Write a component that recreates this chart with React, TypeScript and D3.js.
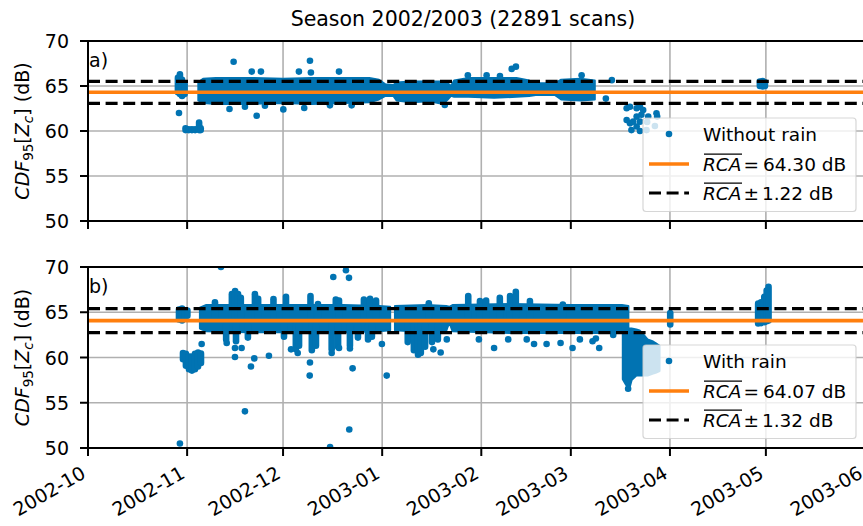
import * as d3 from "d3";

type Col = [string, number, number];
type Pt = [string, number];

const FONT = "DejaVu Sans, sans-serif";
const BLUE = "#0173b2";
const ORANGE = "#ff7f0e";

const TITLE = "Season 2002/2003 (22891 scans)";
const X_START = "2002-10-01";
const X_END = "2003-06-01";
const MONTH_TICKS = [
  "2002-10-01", "2002-11-01", "2002-12-01", "2003-01-01", "2003-02-01",
  "2003-03-01", "2003-04-01", "2003-05-01", "2003-06-01"
];
const Y_TICKS = [50, 55, 60, 65, 70];

// panel a: without rain
const MEAN_A = 64.3;
const SPREAD_A = 1.22;
// dense cloud envelope (date, low, high)
const BAND_A: Col[][] = [[
  ["2002-11-04T12", 63.4, 65.4],
  ["2002-11-06", 63.1, 65.8],
  ["2002-11-10", 63.0, 65.9],
  ["2002-11-20", 63.0, 65.9],
  ["2002-12-01", 63.1, 65.8],
  ["2002-12-10", 63.0, 65.9],
  ["2002-12-20", 63.1, 65.9],
  ["2002-12-28", 63.2, 65.9],
  ["2002-12-31", 63.5, 65.7],
  ["2003-01-02", 63.9, 65.2],
  ["2003-01-04T12", 63.9, 65.1],
  ["2003-01-05T12", 63.4, 65.4],
  ["2003-01-10", 63.2, 65.5],
  ["2003-01-16", 63.3, 65.5],
  ["2003-01-20", 63.0, 65.5],
  ["2003-01-21T12", 63.5, 65.3],
  ["2003-01-22T12", 63.9, 65.0],
  ["2003-01-23T12", 63.8, 65.6],
  ["2003-01-28", 63.8, 65.9],
  ["2003-02-05", 63.7, 65.9],
  ["2003-02-12", 63.8, 65.9],
  ["2003-02-16", 63.9, 65.6],
  ["2003-02-18", 64.0, 65.3],
  ["2003-02-24", 64.0, 65.3],
  ["2003-02-26", 63.5, 65.7],
  ["2003-03-04", 63.4, 65.8],
  ["2003-03-08T12", 63.5, 65.6]
]];
// streaks of stacked scans (date, low, high)
const COLUMNS_A: Col[] = [
  ["2002-10-29T03", 64.3, 65.9],
  ["2002-10-29T18", 64.1, 66.3],
  ["2002-10-30T10", 63.9, 65.7],
  ["2002-10-31T05", 64.1, 65.2],
  ["2002-10-31T12", 60.1, 60.3],
  ["2002-11-01T12", 60.1, 60.2],
  ["2002-11-02T12", 60.1, 60.2],
  ["2002-11-03T12", 60.1, 60.2],
  ["2002-11-04T18", 60.1, 60.95],
  ["2002-11-05T06", 60.1, 60.3],
  ["2003-04-29T03", 65.0, 65.5],
  ["2003-04-30T00", 64.95, 65.55],
  ["2003-04-30T17", 65.0, 65.4]
];
const POINTS_A: Pt[] = [
  ["2002-10-29T11", 62.0],
  ["2002-11-15T13", 67.7],
  ["2002-12-09T10", 67.8],
  ["2002-11-21T05", 66.6],
  ["2002-11-24T02", 66.6],
  ["2002-12-05T23", 66.6],
  ["2002-12-09T17", 66.5],
  ["2002-12-18T12", 66.6],
  ["2003-01-27T19", 66.2],
  ["2003-02-02T16", 66.2],
  ["2003-02-06T20", 66.1],
  ["2003-02-10T12", 66.9],
  ["2003-02-11T20", 67.15],
  ["2003-03-04T09", 66.2],
  ["2003-03-13T20", 65.65],
  ["2003-03-11T23", 63.6],
  ["2002-11-14T06", 62.45],
  ["2002-11-19T02", 62.7],
  ["2002-11-22T18", 61.7],
  ["2002-11-25T08", 62.8],
  ["2002-12-01T02", 62.4],
  ["2002-12-07T15", 62.55],
  ["2002-12-15T16", 62.85],
  ["2002-12-22T11", 62.85],
  ["2003-01-20T14", 62.9],
  ["2003-03-18T11", 62.52],
  ["2003-03-19T12", 62.7],
  ["2003-03-21T14", 62.52],
  ["2003-03-22T15", 62.7],
  ["2003-03-23T15", 62.33],
  ["2003-03-25T05", 61.6],
  ["2003-03-18T11", 61.22],
  ["2003-03-19T12", 60.85],
  ["2003-03-20T12", 61.04],
  ["2003-03-21T14", 61.6],
  ["2003-03-22T15", 61.04],
  ["2003-03-19T23", 60.1],
  ["2003-03-22T15", 60.0],
  ["2003-03-24T16", 60.1],
  ["2003-03-27T19", 61.96],
  ["2003-03-28T00", 61.6],
  ["2003-03-27T07", 60.56],
  ["2003-03-21T14", 60.5],
  ["2003-03-23T02", 61.8],
  ["2003-03-24T21", 61.0]
];

// panel b: with rain
const MEAN_B = 64.07;
const SPREAD_B = 1.32;
const BAND_B: Col[][] = [
  [
    ["2002-11-05", 63.2, 65.5],
    ["2002-11-07", 62.9, 65.8],
    ["2002-11-20", 62.8, 65.8],
    ["2002-12-05", 62.8, 65.8],
    ["2002-12-20", 62.8, 65.8],
    ["2002-12-31", 62.9, 65.7],
    ["2003-01-03T12", 63.0, 65.6]
  ],
  [
    ["2003-01-05", 63.0, 65.7],
    ["2003-01-15", 62.8, 65.8],
    ["2003-01-21", 62.9, 65.7],
    ["2003-01-22", 63.9, 65.6],
    ["2003-01-23", 62.9, 65.8],
    ["2003-02-10", 62.7, 65.9],
    ["2003-03-01", 62.7, 65.8],
    ["2003-03-17", 62.7, 65.8],
    ["2003-03-19", 62.7, 65.7]
  ],
  [
    ["2003-03-17T06", 57.6, 63.3],
    ["2003-03-18T06", 57.0, 63.2],
    ["2003-03-19T06", 56.5, 63.2],
    ["2003-03-20", 57.5, 63.2],
    ["2003-03-21T12", 58.0, 63.1],
    ["2003-03-22T12", 58.0, 63.0],
    ["2003-03-24", 58.0, 62.4],
    ["2003-03-25", 58.0, 62.0],
    ["2003-03-26T12", 58.2, 61.8],
    ["2003-03-27T12", 58.3, 61.6],
    ["2003-03-28T18", 58.5, 61.3]
  ]
];
const COLUMNS_B: Col[] = [
  ["2002-10-29T11", 64.2, 65.3],
  ["2002-10-30T10", 64.1, 65.4],
  ["2002-10-31T07", 64.3, 65.2],
  ["2002-11-01T02", 64.6, 65.2],
  ["2002-10-30T17", 59.8, 60.5],
  ["2002-10-31T15", 59.1, 60.4],
  ["2002-11-01T14", 58.7, 60.1],
  ["2002-11-02T12", 58.55, 60.1],
  ["2002-11-03T11", 58.7, 60.4],
  ["2002-11-04T10", 59.0, 60.55],
  ["2002-11-05T08", 59.4, 60.45],
  ["2003-04-01T02", 63.65, 64.9],
  ["2003-04-28T14", 63.75, 65.95],
  ["2003-04-29T12", 63.8, 66.1],
  ["2003-04-30T12", 63.9, 66.7],
  ["2003-05-01T06", 64.0, 67.4],
  ["2003-05-01T20", 64.1, 67.8],
  // upward streaks
  ["2002-11-09T17", 64.5, 66.1],
  ["2002-11-15T00", 64.5, 67.0],
  ["2002-11-16T00", 64.5, 67.35],
  ["2002-11-16T22", 64.5, 67.0],
  ["2002-11-17T19", 64.5, 66.6],
  ["2002-11-22T05", 64.5, 67.0],
  ["2002-11-23T05", 64.5, 66.5],
  ["2002-11-28T00", 64.5, 66.45],
  ["2002-12-01T22", 64.5, 66.7],
  ["2002-12-09T14", 64.5, 66.8],
  ["2002-12-11T22", 64.5, 65.9],
  ["2002-12-17T12", 64.5, 66.4],
  ["2002-12-18T12", 64.5, 66.3],
  ["2002-12-26T07", 64.5, 66.4],
  ["2002-12-28T05", 64.5, 66.5],
  ["2002-12-30T02", 64.5, 66.3],
  ["2003-01-15T14", 64.5, 66.0],
  ["2003-01-27T22", 64.5, 66.8],
  ["2003-01-31T14", 64.5, 66.25],
  ["2003-02-02T12", 64.5, 66.3],
  ["2003-02-06T19", 64.5, 66.6],
  ["2003-02-10T00", 64.5, 66.8],
  ["2003-02-11T19", 64.5, 67.25],
  ["2003-02-16T05", 64.5, 66.25],
  ["2003-02-26T12", 64.5, 65.85],
  // downward streaks
  ["2002-11-13T05", 62.0, 63.5],
  ["2002-11-16T07", 61.8, 63.5],
  ["2002-11-20T00", 62.2, 63.5],
  ["2002-12-01T07", 62.3, 63.5],
  ["2002-12-05T00", 60.9, 63.5],
  ["2002-12-06T00", 61.3, 63.5],
  ["2002-12-10T00", 60.8, 63.5],
  ["2002-12-11T07", 61.3, 63.5],
  ["2002-12-16T05", 60.9, 63.5],
  ["2002-12-18T05", 61.2, 63.5],
  ["2002-12-21T22", 61.3, 63.5],
  ["2002-12-24T10", 62.2, 63.5],
  ["2002-12-27T14", 62.0, 63.5],
  ["2002-12-28T19", 62.3, 63.5],
  ["2003-01-09T00", 61.7, 63.5],
  ["2003-01-10T22", 60.8, 63.5],
  ["2003-01-12T05", 60.3, 63.5],
  ["2003-01-13T02", 60.5, 63.5],
  ["2003-01-14T10", 61.2, 63.5],
  ["2003-01-16T14", 61.7, 63.5],
  ["2003-01-18T10", 62.0, 63.5]
];
const POINTS_B: Pt[] = [
  ["2002-11-11T14", 70.0],
  ["2002-12-16T17", 68.9],
  ["2002-12-20T16", 69.65],
  ["2002-12-21T15", 68.8],
  ["2002-10-29T18", 50.5],
  ["2002-11-19T02", 54.05],
  ["2002-12-21T17", 52.05],
  ["2002-12-15T17", 50.1],
  ["2002-12-09T10", 59.45],
  ["2002-12-09T08", 58.0],
  ["2002-12-22T18", 58.8],
  ["2003-01-02T10", 58.0],
  ["2002-12-31T22", 61.5],
  ["2002-11-20T23", 59.0],
  ["2002-11-22T00", 59.9],
  ["2002-11-26T14", 60.2],
  ["2002-11-15T23", 61.05],
  ["2002-11-15T23", 60.05],
  ["2002-11-18T01", 61.05],
  ["2002-11-13T09", 61.6],
  ["2002-11-05T13", 61.5],
  ["2002-12-03T12", 60.9],
  ["2002-12-05T14", 60.5],
  ["2002-12-16T05", 60.5],
  ["2002-12-18T12", 61.05],
  ["2002-12-21T22", 61.0],
  ["2003-01-17T00", 60.9],
  ["2003-01-19T07", 60.55],
  ["2003-01-21T05", 62.0],
  ["2003-01-31T06", 62.0],
  ["2003-02-05T00", 61.05],
  ["2003-02-09T10", 62.0],
  ["2003-02-15T05", 62.0],
  ["2003-02-17T12", 61.5],
  ["2003-02-21T10", 61.5],
  ["2003-02-25T19", 61.6],
  ["2003-03-01T13", 61.05],
  ["2003-03-03T20", 62.0],
  ["2003-03-07T19", 61.8],
  ["2003-03-09T21", 61.05],
  ["2003-03-14T06", 62.5],
  ["2003-03-08T20", 62.1],
  ["2003-03-18T22", 56.55]
];

const LEFT = 88;
const RIGHT = 865;
const parseDate = (s: string) => new Date(s.length > 10 ? `${s}:00` : `${s}T00:00`);
const x = d3.scaleTime().domain([parseDate(X_START), parseDate(X_END)]).range([LEFT, RIGHT]);

type PanelProps = {
  id: string;
  top: number;
  bottom: number;
  bands: Col[][];
  columns: Col[];
  points: Pt[];
  mean: number;
  spread: number;
  label: string;
  letter: string;
  showDates: boolean;
};

function Panel({id, top, bottom, bands, columns, points, mean, spread, label, letter, showDates}: PanelProps) {
  const y = d3.scaleLinear().domain([50, 70]).range([bottom, top]);
  const area = d3
    .area<Col>()
    .x((d) => x(parseDate(d[0])))
    .y0((d) => y(d[1]))
    .y1((d) => y(d[2]));
  const fmt = d3.timeFormat("%Y-%m");
  const boxW = 213;
  const boxH = 93.5;
  const boxX = RIGHT - 9 - boxW;
  const boxY = bottom - 9.5 - boxH;
  const rows = [boxY + 16, boxY + 46, boxY + 75];
  const textX = boxX + 60;
  const midY = (top + bottom) / 2;

  return (
    <g>
      <defs>
        <clipPath id={`clip-${id}`}>
          <rect x={LEFT} y={top} width={RIGHT - LEFT} height={bottom - top} />
        </clipPath>
      </defs>
      {MONTH_TICKS.map((t) => (
        <line key={t} x1={x(parseDate(t))} x2={x(parseDate(t))} y1={top} y2={bottom} stroke="#b0b0b0" strokeWidth={1.6} />
      ))}
      {Y_TICKS.map((t) => (
        <line key={t} x1={LEFT} x2={RIGHT} y1={y(t)} y2={y(t)} stroke="#b0b0b0" strokeWidth={1.6} />
      ))}
      <g clipPath={`url(#clip-${id})`}>
        {bands.map((seg, i) => (
          <path key={i} d={area(seg) ?? ""} fill={BLUE} stroke={BLUE} strokeWidth={2} strokeLinejoin="round" />
        ))}
        {columns.map((c, i) => (
          <line
            key={i}
            x1={x(parseDate(c[0]))}
            x2={x(parseDate(c[0]))}
            y1={y(c[1])}
            y2={y(c[2])}
            stroke={BLUE}
            strokeWidth={6.6}
            strokeLinecap="round"
          />
        ))}
        {points.map((p, i) => (
          <circle key={i} cx={x(parseDate(p[0]))} cy={y(p[1])} r={3.3} fill={BLUE} />
        ))}
        <line x1={LEFT} x2={RIGHT} y1={y(mean)} y2={y(mean)} stroke={ORANGE} strokeWidth={3.6} />
        {[mean + spread, mean - spread].map((v) => (
          <line key={v} x1={LEFT} x2={RIGHT} y1={y(v)} y2={y(v)} stroke="#000" strokeWidth={3.2} strokeDasharray="12,5.6" />
        ))}
      </g>

      <rect x={boxX} y={boxY} width={boxW} height={boxH} rx={3} fill="#fff" fillOpacity={0.8} stroke="#cccccc" strokeOpacity={0.8} strokeWidth={1.2} />
      <circle cx={boxX + 26} cy={rows[0]} r={3.3} fill={BLUE} />
      <line x1={boxX + 6} x2={boxX + 46} y1={rows[1]} y2={rows[1]} stroke={ORANGE} strokeWidth={3.6} />
      <line x1={boxX + 6} x2={boxX + 46} y1={rows[2]} y2={rows[2]} stroke="#000" strokeWidth={3.2} strokeDasharray="12,5.6" />
      <g fontFamily={FONT} fontSize={18.5} fill="#000">
        <text x={textX} y={rows[0] + 6.5}>{label}</text>
        <text x={textX} y={rows[1] + 6.5}>
          <tspan fontStyle="italic">RCA</tspan>
          <tspan dx={2}>=</tspan>
          <tspan dx={4}>{`${mean.toFixed(2)} dB`}</tspan>
        </text>
        <text x={textX} y={rows[2] + 6.5}>
          <tspan fontStyle="italic">RCA</tspan>
          <tspan dx={2}>±</tspan>
          <tspan dx={3}>{`${spread.toFixed(2)} dB`}</tspan>
        </text>
      </g>
      <line x1={textX + 1} x2={textX + 39} y1={rows[1] - 9.8} y2={rows[1] - 9.8} stroke="#000" strokeWidth={1.2} />
      <line x1={textX + 1} x2={textX + 39} y1={rows[2] - 9.8} y2={rows[2] - 9.8} stroke="#000" strokeWidth={1.2} />

      <rect x={LEFT} y={top} width={RIGHT - LEFT} height={bottom - top} fill="none" stroke="#000" strokeWidth={2} />
      {Y_TICKS.map((t) => (
        <g key={t}>
          <line x1={LEFT - 8} x2={LEFT} y1={y(t)} y2={y(t)} stroke="#000" strokeWidth={2} />
          <text x={LEFT - 19} y={y(t)} textAnchor="end" dominantBaseline="central" fontFamily={FONT} fontSize={19}>
            {t}
          </text>
        </g>
      ))}
      {MONTH_TICKS.map((t) => {
        const px = x(parseDate(t));
        return (
          <g key={t}>
            <line x1={px} x2={px} y1={bottom} y2={bottom + 8} stroke="#000" strokeWidth={2} />
            {showDates && (
              <text
                transform={`translate(${px - 1},${bottom + 29}) rotate(-30)`}
                textAnchor="end"
                fontFamily={FONT}
                fontSize={19}
              >
                {fmt(parseDate(t))}
              </text>
            )}
          </g>
        );
      })}
      <text x={LEFT + 1} y={top + 26} fontFamily={FONT} fontSize={19}>
        {letter}
      </text>
      <text transform={`translate(29,${midY}) rotate(-90)`} textAnchor="middle" fontFamily={FONT} fontSize={19}>
        <tspan fontStyle="italic">CDF</tspan>
        <tspan fontSize={13.5} dy={4}>95</tspan>
        <tspan dy={-4}>[</tspan>
        <tspan fontStyle="italic">Z</tspan>
        <tspan fontStyle="italic" fontSize={13.5} dy={4}>c</tspan>
        <tspan dy={-4}>] (dB)</tspan>
      </text>
    </g>
  );
}

export default function App() {
  return (
    <div>
      <style>{`body{margin:0}`}</style>
      <svg width={863} height={526} style={{display: "block", background: "#fff"}}>
        <text x={463} y={26} textAnchor="middle" fontFamily={FONT} fontSize={20.5}>
          {TITLE}
        </text>
        <Panel
          id="a"
          top={41}
          bottom={221}
          bands={BAND_A}
          columns={COLUMNS_A}
          points={POINTS_A}
          mean={MEAN_A}
          spread={SPREAD_A}
          label="Without rain"
          letter="a)"
          showDates={false}
        />
        <Panel
          id="b"
          top={267}
          bottom={448}
          bands={BAND_B}
          columns={COLUMNS_B}
          points={POINTS_B}
          mean={MEAN_B}
          spread={SPREAD_B}
          label="With rain"
          letter="b)"
          showDates={true}
        />
      </svg>
    </div>
  );
}
